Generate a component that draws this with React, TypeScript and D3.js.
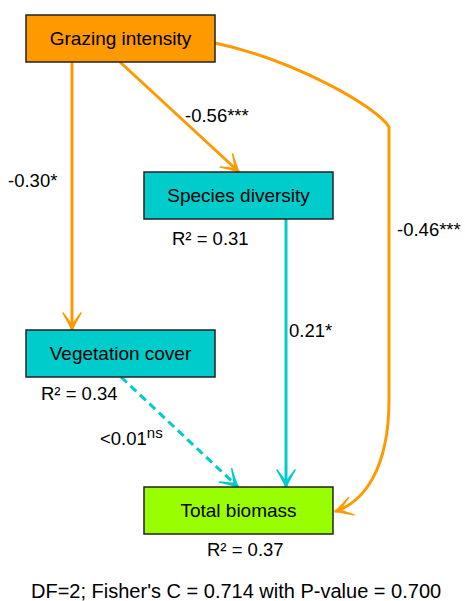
import React from "react"
import * as d3 from "d3"

const W = 465
const H = 601

// nodes of the path model
const nodeNames = ["Grazing intensity", "Species diversity", "Vegetation cover", "Total biomass"]
const nodeColors = ["#FF9900", "#00CCCC", "#00CCCC", "#99FF00"]
const nodeCol = [0, 1, 0, 1]
const nodeRow = [0, 1, 2, 3]
const nodeR2 = [null, "0.31", "0.34", "0.37"]

// paths: from, to, coefficient, significance
const pathFrom = [0, 0, 0, 1, 2]
const pathTo = [2, 1, 3, 3, 3]
const pathCoef = ["-0.30", "-0.56", "-0.46", "0.21", "<0.01"]
const pathSig = ["*", "***", "***", "*", "ns"]

const footer = "DF=2; Fisher's C = 0.714 with P-value = 0.700"

const boxW = 189
const boxH = 47
const x = d3.scaleLinear().domain([0, 1]).range([26, 144])
const y = d3.scaleLinear().domain([0, 1, 2, 3]).range([15, 172, 330, 487])

const font = "'Liberation Sans', Arial, sans-serif"

function nodeBox(i: number) {
  const x0 = x(nodeCol[i])
  const y0 = y(nodeRow[i])
  return { x0, y0, x1: x0 + boxW, y1: y0 + boxH, cx: x0 + boxW / 2, cy: y0 + boxH / 2 }
}

function pathGeom(k: number) {
  const a = nodeBox(pathFrom[k])
  const b = nodeBox(pathTo[k])
  const p = d3.path()
  let label = { x: 0, y: 0 }
  if (k === 0) {
    p.moveTo(a.x0 + 46, a.y1); p.lineTo(a.x0 + 46, b.y0)
    label = { x: 8, y: 187 }
  } else if (k === 1) {
    p.moveTo(a.x0 + 94, a.y1); p.lineTo(b.x0 + 95, b.y0)
    label = { x: 185, y: 122 }
  } else if (k === 2) {
    const rx = 389
    p.moveTo(a.x1, a.y0 + 28)
    p.bezierCurveTo(a.x1 + 80, a.y0 + 45, rx - 12, a.y0 + 92, rx, a.y0 + 112)
    p.lineTo(rx, 400)
    p.bezierCurveTo(rx, 470, b.x1 + 30, b.cy - 8, b.x1 + 2, b.cy + 1)
    label = { x: 397, y: 236 }
  } else if (k === 3) {
    p.moveTo(a.x0 + 142, a.y1); p.lineTo(a.x0 + 142, b.y0)
    label = { x: 289, y: 337 }
  } else {
    p.moveTo(a.x0 + 95, a.y1); p.lineTo(b.x0 + 94, b.y0)
    label = { x: 100, y: 445 }
  }
  return { d: p.toString(), label }
}

const r2Pos = [null, { x: 172, y: 245 }, { x: 41, y: 400 }, { x: 207, y: 556 }]

export default function App() {
  return (
    <svg width={W} height={H} style={{ position: "absolute", left: 0, top: 0 }} fontFamily={font}>
      <defs>
        {["orange", "teal"].map((id) => (
          <marker key={id} id={"arr-" + id} markerUnits="userSpaceOnUse" markerWidth={30} markerHeight={30}
            refX={0} refY={0} viewBox="-20 -15 30 30" orient="auto">
            <path d="M0,0 Q-7,-3 -17,-9 Q-9,-3 -5,0 Q-9,3 -17,9 Q-7,3 0,0Z"
              fill={id === "orange" ? "#FF9900" : "#00CCCC"}
              stroke={id === "orange" ? "#FF9900" : "#00CCCC"} strokeWidth={1.5} strokeLinejoin="round" />
          </marker>
        ))}
      </defs>
      {pathFrom.map((f, k) => {
        const g = pathGeom(k)
        const col = nodeColors[f] === "#FF9900" ? "orange" : "teal"
        const ns = pathSig[k] === "ns"
        return (
          <g key={k}>
            <path d={g.d} fill="none" stroke={col === "orange" ? "#FF9900" : "#00CCCC"} strokeWidth={3}
              strokeDasharray={ns ? "8,5" : undefined} markerEnd={`url(#arr-${col})`} />
            <text x={g.label.x} y={g.label.y} fontSize={18.5} fill="#000">
              {pathCoef[k]}
              {ns ? <tspan fontSize={15} dy={-7}>{pathSig[k]}</tspan> : pathSig[k]}
            </text>
          </g>
        )
      })}
      {nodeNames.map((n, i) => {
        const b = nodeBox(i)
        const r = r2Pos[i]
        return (
          <g key={n}>
            <rect x={b.x0} y={b.y0} width={boxW} height={boxH} fill={nodeColors[i]} stroke="#222" strokeWidth={1.5} />
            <text x={b.cx} y={b.cy + 6.5} textAnchor="middle" fontSize={19} fill="#000">{n}</text>
            {r && nodeR2[i] && (
              <text x={r.x} y={r.y} fontSize={18.5} fill="#000">{"R² = " + nodeR2[i]}</text>
            )}
          </g>
        )
      })}
      <text x={31} y={598} fontSize={20} fill="#000">{footer}</text>
    </svg>
  )
}
